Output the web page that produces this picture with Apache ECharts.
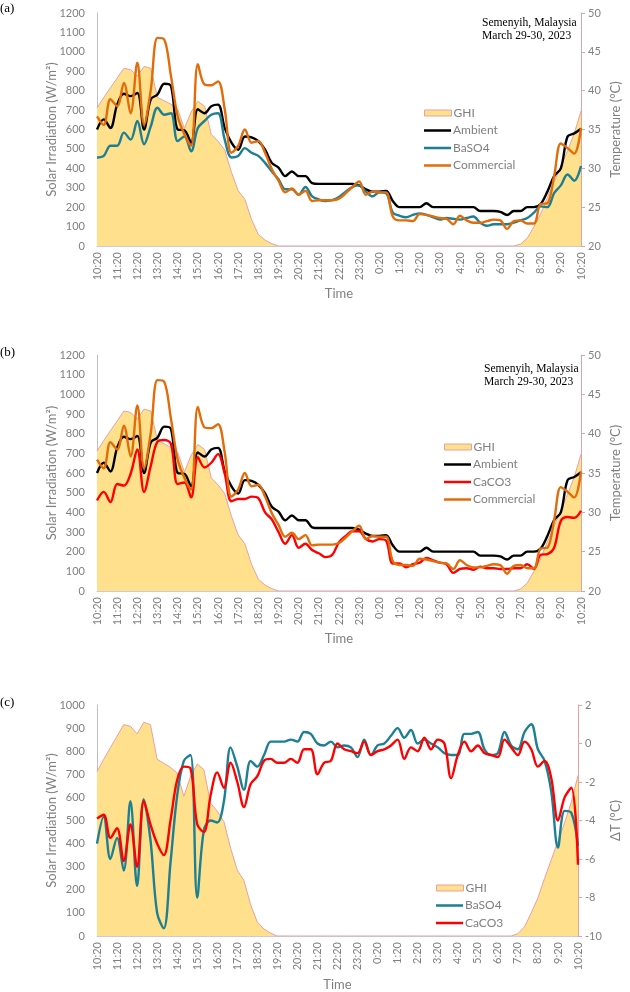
<!DOCTYPE html>
<html><head><meta charset="utf-8">
<script src="https://cdn.jsdelivr.net/npm/echarts@6/dist/echarts.min.js"></script>
<style>html,body{margin:0;padding:0;background:#fff}#c{width:630px;height:992px}</style>
</head><body><div id="c"></div>
<script>
const times = ['10:20','10:40','11:00','11:20','11:40','12:00','12:20','12:40','13:00','13:20','13:40','14:00','14:20','14:40','15:00','15:20','15:40','16:00','16:20','16:40','17:00','17:20','17:40','18:00','18:20','18:40','19:00','19:20','19:40','20:00','20:20','20:40','21:00','21:20','21:40','22:00','22:20','22:40','23:00','23:20','23:40','0:00','0:20','0:40','1:00','1:20','1:40','2:00','2:20','2:40','3:00','3:20','3:40','4:00','4:20','4:40','5:00','5:20','5:40','6:00','6:20','6:40','7:00','7:20','7:40','8:00','8:20','8:40','9:00','9:20','9:40','10:00','10:20'];

const ghi = [711,765,815,865,915,908,875,925,915,765,748,730,705,605,690,745,720,575,540,495,380,285,240,135,60,30,12,0,0,0,0,0,0,0,0,0,0,0,0,0,0,0,0,0,0,0,0,0,0,0,0,0,0,0,0,0,0,0,0,0,0,0,0,10,40,100,165,250,330,410,490,580,695];

const ambient = [35.0,36.3,35.2,38.2,39.6,39.3,39.7,35.0,38.9,39.5,40.9,40.6,35.0,34.9,33.3,37.6,37.1,38.0,38.2,35.2,33.3,32.4,34.1,34.0,33.5,32.4,30.7,30.1,29.0,29.6,29.0,29.0,28.1,28.0,28.0,28.0,28.0,28.0,28.0,27.8,27.3,27.0,27.0,27.1,25.8,25.0,25.0,25.0,25.0,25.5,25.0,25.0,25.0,25.0,25.0,25.0,25.0,24.5,24.5,24.5,24.4,24.0,24.5,24.5,25.0,25.0,25.4,27.0,29.0,30.0,34.1,34.5,35.1];

const baso4 = [31.4,31.6,32.9,32.9,34.6,33.7,36.1,33.1,35.4,37.8,36.9,37.1,33.5,34.1,32.2,35.2,36.1,36.9,37.1,33.7,31.4,31.6,32.6,32.0,31.6,30.7,29.6,28.6,27.3,27.3,26.6,27.6,26.4,26.0,25.8,25.9,26.3,27.0,27.6,27.8,27.0,26.4,26.9,26.8,24.3,23.9,23.7,24.0,24.2,24.0,23.7,23.4,23.6,23.5,23.4,23.6,23.8,23.0,22.6,22.8,22.8,22.8,23.0,23.3,23.6,24.3,25.1,25.0,26.8,27.8,29.2,28.4,30.3];

const commercial = [36.7,35.6,38.9,38.0,41.0,37.1,43.6,35.6,40.1,46.8,46.6,41.9,36.7,34.4,32.9,43.4,40.8,40.7,41.2,37.6,32.0,32.9,35.0,33.3,33.5,32.0,29.9,28.4,26.9,27.4,26.6,27.1,25.8,25.9,25.9,25.9,26.1,26.8,27.6,28.3,26.6,27.0,26.9,26.9,23.8,23.3,23.3,23.2,24.1,24.0,23.8,23.6,23.5,22.8,23.9,23.3,23.0,23.0,23.2,23.4,23.3,22.2,23.2,23.3,22.9,22.9,25.4,25.5,29.0,33.2,32.6,31.9,35.2];

const caco3 = [31.5,32.6,31.3,33.6,33.4,34.9,38.0,32.6,35.9,39.0,39.2,38.7,33.6,33.8,31.9,37.0,35.7,36.3,37.4,34.9,31.4,31.7,31.7,32.0,31.8,30.0,29.1,27.5,26.0,27.1,25.5,26.0,25.2,24.8,24.3,24.6,26.2,27.0,27.6,27.6,26.6,26.3,26.6,26.4,23.5,23.5,23.0,23.4,23.6,24.2,23.9,23.6,23.4,22.3,22.8,22.9,22.7,23.1,22.9,22.9,22.8,22.8,22.9,22.9,23.4,22.8,24.6,24.7,25.5,28.9,29.4,29.3,30.2];

const dBaSO4 = [-5.2,-3.8,-6.0,-4.9,-6.6,-3.0,-7.4,-2.9,-5.0,-8.8,-9.6,-6.2,-2.7,-0.9,-0.6,-8.0,-4.5,-4.0,-4.1,-3.0,-0.2,-1.2,-2.4,-0.9,-1.2,-0.6,0.1,0.1,0.1,0.2,0.1,0.6,0.5,0.0,-0.1,0.1,-0.2,-0.1,-0.2,-0.7,0.2,-0.6,-0.1,0.0,0.4,0.8,0.3,0.7,0.0,0.2,0.0,-0.2,-0.5,-0.6,-0.6,0.5,0.5,0.6,-0.3,-0.6,-0.5,0.6,-0.1,-0.3,0.6,1.0,-0.3,-0.9,-2.5,-5.4,-3.5,-3.6,-5.3];

const dCaCO3 = [-3.9,-3.7,-4.9,-4.4,-6.1,-4.2,-6.4,-3.0,-4.2,-5.2,-5.8,-4.0,-1.9,-1.2,-1.3,-4.2,-4.6,-2.7,-1.5,-2.3,-1.0,-2.0,-3.3,-2.1,-1.7,-0.9,-0.8,-1.0,-1.0,-0.8,-1.0,-0.3,-0.3,-1.6,-1.0,-0.9,0.0,-0.3,-0.4,-0.5,0.1,-0.6,-0.4,-0.3,-0.1,0.2,-0.8,-0.2,-0.4,0.3,-0.3,0.2,0.0,-1.8,-0.6,0.1,-0.4,-0.1,-0.5,-0.6,-0.7,0.2,-0.2,-0.6,0.1,-0.3,-1.2,-0.9,-1.8,-4.0,-2.8,-2.3,-6.3];

const chart = echarts.init(document.getElementById('c'), null, {renderer: 'canvas'});

const gray = '#808080';
const pink = '#E6A1A1';
const ghiFill = '#FFE08C';
const FONT = 'Lato';
const SERIF = '"Liberation Serif", "Times New Roman", serif';
const C = {Ambient: '#000000', BaSO4: '#1D7F92', Commercial: '#E36C0A', CaCO3: '#FF0000'};

const grids = [
  {left: 97, right: 43, top: 13, height: 233},
  {left: 97, right: 43, top: 355, height: 236},
  {left: 97, right: 46, top: 705, height: 232}
];

function xAx(g, gap) {
  return {
    type: 'category', gridIndex: g, data: times, boundaryGap: false,
    axisLine: {lineStyle: {color: '#CFC7DA', width: 1}},
    axisTick: {show: false},
    axisLabel: {interval: 2, rotate: 90, fontSize: 11, color: gray, fontFamily: FONT, margin: 6},
    splitLine: {show: false},
    name: 'Time', nameLocation: 'middle', nameGap: gap, nameMoveOverlap: false,
    nameTextStyle: {fontSize: 13, color: gray, fontFamily: FONT}
  };
}
function yLeft(g, max) {
  return {
    type: 'value', gridIndex: g, min: 0, max: max, interval: 100, position: 'left',
    axisLine: {show: true, lineStyle: {color: '#BFBFBF'}},
    axisTick: {show: false}, splitLine: {show: false},
    axisLabel: {fontSize: 11, color: gray, fontFamily: FONT, margin: 12, formatter: v => String(v)},
    name: 'Solar Irradiation (W/m²)', nameLocation: 'middle', nameGap: 39, nameMoveOverlap: false,
    nameTextStyle: {fontSize: 13, color: gray, fontFamily: FONT}
  };
}
function yRight(g, min, max, interval, name, gap) {
  return {
    type: 'value', gridIndex: g, min: min, max: max, interval: interval, position: 'right',
    axisLine: {show: true, lineStyle: {color: pink}},
    axisTick: {show: true, length: 4, lineStyle: {color: pink}},
    splitLine: {show: false},
    axisLabel: {fontSize: 11, color: gray, fontFamily: FONT, margin: 7, formatter: v => String(v)},
    name: name, nameLocation: 'middle', nameGap: gap, nameMoveOverlap: false,
    nameTextStyle: {fontSize: 13, color: gray, fontFamily: FONT}
  };
}

function ghiSeries(g, yi) {
  return {
    name: 'GHI', type: 'line', xAxisIndex: g, yAxisIndex: yi, data: ghi,
    symbol: 'none', smooth: false,
    lineStyle: {color: pink, width: 1},
    itemStyle: {color: ghiFill},
    areaStyle: {color: ghiFill, opacity: 1},
    z: 1
  };
}
function lineSeries(name, data, g, yi) {
  return {
    name: name, type: 'line', xAxisIndex: g, yAxisIndex: yi, data: data,
    symbol: 'none', smooth: 0.35,
    lineStyle: {color: C[name], width: 2.4},
    itemStyle: {color: C[name]},
    z: 3
  };
}

const legendText = {fontSize: 12, color: gray, fontFamily: FONT, lineHeight: 14, padding: [0, 0, 0, -3]};
function ghiLegend(left, top) {
  return {
    left: left, top: top, orient: 'vertical', padding: 0, itemGap: 3.5,
    itemWidth: 27, itemHeight: 6, textStyle: legendText,
    data: [{name: 'GHI', icon: 'rect', itemStyle: {color: ghiFill, borderColor: pink, borderWidth: 1}}]
  };
}
function lineLegend(left, top, names) {
  return {
    left: left, top: top, orient: 'vertical', padding: 0, itemGap: 3.5,
    itemWidth: 27, itemHeight: 2.5, textStyle: legendText,
    data: names.map(n => ({name: n, icon: 'rect', itemStyle: {color: C[n], borderWidth: 0}}))
  };
}

const option = {
  animation: false,
  backgroundColor: '#ffffff',
  grid: grids,
  xAxis: [xAx(0, 41), xAx(1, 41), xAx(2, 42)],
  yAxis: [
    yLeft(0, 1200), yRight(0, 20, 50, 5, 'Temperature (°C)', 28),
    yLeft(1, 1200), yRight(1, 20, 50, 5, 'Temperature (°C)', 28),
    yLeft(2, 1000), yRight(2, -10, 2, 2, 'ΔT (°C)', 31)
  ],
  legend: [
    ghiLegend(424, 106),
    lineLegend(424, 123.5, ['Ambient', 'BaSO4', 'Commercial']),
    ghiLegend(444, 440),
    lineLegend(444, 457.5, ['Ambient', 'CaCO3', 'Commercial']),
    ghiLegend(436, 881),
    lineLegend(436, 898.5, ['BaSO4', 'CaCO3'])
  ],
  series: [
    ghiSeries(0, 0),
    lineSeries('Ambient', ambient, 0, 1),
    lineSeries('BaSO4', baso4, 0, 1),
    lineSeries('Commercial', commercial, 0, 1),
    ghiSeries(1, 2),
    lineSeries('Ambient', ambient, 1, 3),
    lineSeries('CaCO3', caco3, 1, 3),
    lineSeries('Commercial', commercial, 1, 3),
    ghiSeries(2, 4),
    lineSeries('BaSO4', dBaSO4, 2, 5),
    lineSeries('CaCO3', dCaCO3, 2, 5)
  ],
  graphic: [
    {type: 'text', left: 0, top: 2, style: {text: '(a)', font: '13px ' + SERIF, fill: '#000'}},
    {type: 'text', left: 0, top: 346, style: {text: '(b)', font: '13px ' + SERIF, fill: '#000'}},
    {type: 'text', left: 0, top: 696, style: {text: '(c)', font: '13px ' + SERIF, fill: '#000'}},
    {type: 'text', left: 482, top: 16, style: {text: 'Semenyih, Malaysia\nMarch 29-30, 2023', font: '11.6px ' + SERIF, lineHeight: 13, fill: '#000'}},
    {type: 'text', left: 484, top: 362, style: {text: 'Semenyih, Malaysia\nMarch 29-30, 2023', font: '11.6px ' + SERIF, lineHeight: 13, fill: '#000'}}
  ]
};
chart.setOption(option);
</script>
</body></html>
